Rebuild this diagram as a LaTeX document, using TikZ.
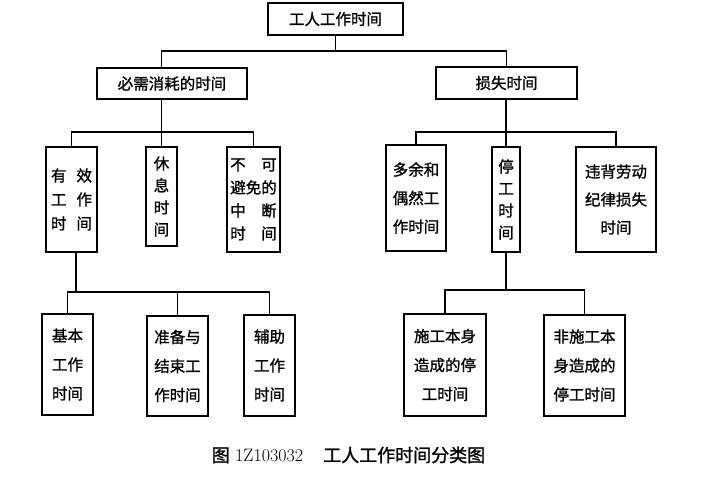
\documentclass[tikz,border=0pt]{standalone}
\usepackage{fontspec}
\newfontfamily\cjk[FakeBold=1.2]{Noto Sans CJK SC}
\begin{document}
\begin{tikzpicture}[x=1pt,y=-1pt,
    box/.style={draw,line width=1.5pt,inner sep=0pt,align=center,font=\cjk\fontsize{15.5}{29}\selectfont},
    rowskip/.style={font=\cjk\fontsize{15.5}{#1}\selectfont},
    link/.style={line width=1.2pt}]
  \useasboundingbox (0,0) rectangle (706,488);

  % top
  \node[box,minimum width=135,minimum height=32] (work) at (335.5,19) {工人工作时间};

  % second row
  \node[box,minimum width=150,minimum height=31] (need) at (172,83.5) {必需消耗的时间};
  \node[box,minimum width=141,minimum height=32] (loss) at (506.5,83) {损失时间};

  % third row
  \node[box,rowskip=24,minimum width=51,minimum height=105] (eff) at (71.5,199.5)
    {\makebox[41pt][s]{有\hfill 效}\\ \makebox[41pt][s]{工\hfill 作}\\ \makebox[41pt][s]{时\hfill 间}};
  \node[box,rowskip=22,minimum width=31,minimum height=99] (rest) at (161.5,196.5) {休\\息\\时\\间};
  \node[box,rowskip=23,minimum width=53,minimum height=105] (brk) at (253.5,199.5)
    {\makebox[46.5pt][s]{不\hfill 可}\\ 避免的\\ \makebox[46.5pt][s]{中\hfill 断}\\ \makebox[46.5pt][s]{时\hfill 间}};
  \node[box,rowskip=28.5,minimum width=60,minimum height=106] (extra) at (416,198) {多余和\\偶然工\\作时间};
  \node[box,rowskip=22,minimum width=28,minimum height=105] (stop) at (506,199.5) {停\\工\\时\\间};
  \node[box,rowskip=28,minimum width=80,minimum height=105] (disc) at (616,199.5) {违背劳动\\纪律损失\\时间};

  % fourth row
  \node[box,minimum width=51,minimum height=101] (basic) at (67.5,364.5) {基本\\工作\\时间};
  \node[box,minimum width=61,minimum height=100] (prep) at (177.5,366) {准备与\\结束工\\作时间};
  \node[box,minimum width=51,minimum height=101] (aux) at (269.5,365.5) {辅助\\工作\\时间};
  \node[box,minimum width=82,minimum height=102] (self) at (445,365) {施工本身\\造成的停\\工时间};
  \node[box,minimum width=81,minimum height=101] (nonself) at (584.5,365.5) {非施工本\\身造成的\\停工时间};

  % connectors
  \coordinate (bus0) at (335.5,51);
  \draw[link] (work.south) -- (bus0);
  \draw[link] (need.north -| rest) |- (bus0) -| (loss.north);

  \coordinate (bus1) at (161.5,132);
  \draw[link] (need.south -| rest) -- (rest.north);
  \draw[link] (eff.north) |- (bus1) -| (brk.north);

  \coordinate (bus2) at (506,132);
  \draw[link] (loss.south -| stop) -- (stop.north);
  \draw[link] (extra.north) |- (bus2) -| (disc.north);

  \coordinate (bus3) at (76,292);
  \draw[link] (bus3 |- eff.south) -- (bus3);
  \draw[link] (basic.north) |- (bus3) -| (aux.north);
  \draw[link] (prep.north) -- (prep.north |- bus3);

  \coordinate (bus4) at (506,290);
  \draw[link] (stop.south) -- (bus4);
  \draw[link] (self.north) |- (bus4) -| (nonself.north);

  % caption
  \node[font=\fontsize{18}{18}\selectfont] (title) at (348.5,455)
    {{\cjk 图} 1Z103032\hspace{20pt}{\cjk 工人工作时间分类图}};
\end{tikzpicture}
\end{document}
